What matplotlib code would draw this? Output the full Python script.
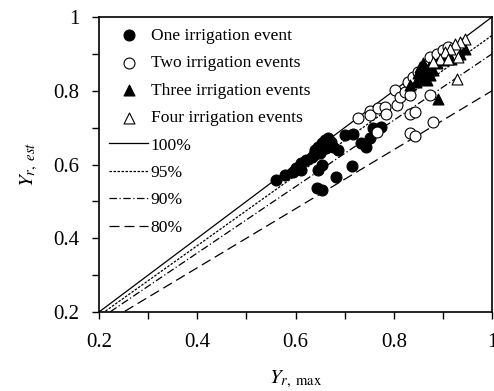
import numpy as np
import matplotlib
matplotlib.use("Agg")
import matplotlib.pyplot as plt

plt.rcParams['font.family'] = ['Liberation Serif', 'DejaVu Serif']
plt.rcParams['mathtext.fontset'] = 'stix'

# one irrigation event
one_x = [0.560, 0.578, 0.595, 0.602, 0.612, 0.612, 0.622, 0.633, 0.639, 0.646, 0.653,
         0.660, 0.666, 0.673, 0.650, 0.660, 0.677, 0.687, 0.646, 0.653, 0.643, 0.653,
         0.683, 0.714, 0.700, 0.717, 0.734, 0.744, 0.751, 0.758, 0.775, 0.663, 0.640]
one_y = [0.558, 0.572, 0.581, 0.590, 0.603, 0.585, 0.612, 0.621, 0.639, 0.648, 0.657,
         0.666, 0.671, 0.662, 0.630, 0.644, 0.648, 0.639, 0.585, 0.599, 0.536, 0.531,
         0.567, 0.596, 0.680, 0.684, 0.657, 0.648, 0.671, 0.698, 0.702, 0.644, 0.634]

# two irrigation events
two_x = [0.727, 0.751, 0.751, 0.768, 0.782, 0.785, 0.765, 0.802, 0.806, 0.812, 0.822,
         0.833, 0.829, 0.840, 0.850, 0.860, 0.833, 0.843, 0.833, 0.843, 0.873, 0.880,
         0.873, 0.887, 0.900, 0.911]
two_y = [0.725, 0.745, 0.734, 0.752, 0.756, 0.738, 0.689, 0.802, 0.761, 0.784, 0.797,
         0.788, 0.824, 0.838, 0.851, 0.860, 0.738, 0.743, 0.686, 0.677, 0.788, 0.716,
         0.892, 0.901, 0.910, 0.919]

# three irrigation events
three_x = [0.833, 0.850, 0.853, 0.857, 0.860, 0.864, 0.867, 0.871, 0.874, 0.880, 0.887,
           0.890, 0.900, 0.917, 0.934, 0.944, 0.846]
three_y = [0.815, 0.847, 0.865, 0.833, 0.874, 0.851, 0.829, 0.865, 0.842, 0.856, 0.874,
           0.779, 0.883, 0.887, 0.901, 0.914, 0.824]

# four irrigation events
four_x = [0.944, 0.934, 0.924, 0.914, 0.904, 0.894, 0.880, 0.928, 0.911, 0.931]
four_y = [0.941, 0.932, 0.928, 0.914, 0.905, 0.887, 0.878, 0.831, 0.887, 0.892]

ratios = [1.0, 0.95, 0.90, 0.80]
ratio_labels = ['100%', '95%', '90%', '80%']
ratio_styles = ['-', (0, (2, 1.2)), (0, (6, 2, 1, 2)), (0, (8, 4))]

fig = plt.figure(figsize=(4.94, 3.91), dpi=100)
ax = fig.add_axes([0.2004, 0.202, 0.7956, 0.7545])

ms = 62
ax.scatter(one_x, one_y, s=ms, marker='o', c='black', edgecolors='black',
           linewidths=0.8, label='One irrigation event', zorder=3)
ax.scatter(two_x, two_y, s=ms, marker='o', c='white', edgecolors='black',
           linewidths=0.8, label='Two irrigation events', zorder=3)
ax.scatter(three_x, three_y, s=ms, marker='^', c='black', edgecolors='black',
           linewidths=0.8, label='Three irrigation events', zorder=3)
ax.scatter(four_x, four_y, s=ms, marker='^', c='white', edgecolors='black',
           linewidths=0.8, label='Four irrigation events', zorder=3)

xx = np.array([0.2, 1.0])
for r, lab, ls in zip(ratios, ratio_labels, ratio_styles):
    ax.plot(xx, r * xx, color='black', linestyle=ls, linewidth=0.9, label=lab, zorder=2)

ax.set_xlim(0.2, 1.0)
ax.set_ylim(0.2, 1.0)
ax.set_xticks([0.2, 0.4, 0.6, 0.8, 1.0])
ax.set_xticklabels(['0.2', '0.4', '0.6', '0.8', '1'])
ax.set_yticks([0.2, 0.4, 0.6, 0.8, 1.0])
ax.set_yticklabels(['0.2', '0.4', '0.6', '0.8', '1'])
ax.set_xticks([0.3, 0.5, 0.7, 0.9], minor=True)
ax.set_yticks([0.3, 0.5, 0.7, 0.9], minor=True)
ax.tick_params(which='both', direction='out', length=5, width=1, labelsize=15)
ax.tick_params(axis='x', pad=10)
ax.tick_params(axis='y', pad=9)
for sp in ax.spines.values():
    sp.set_linewidth(1.2)

ax.set_xlabel(r'$Y_{r,\ \mathrm{max}}$', fontsize=15, labelpad=12)
ax.set_ylabel(r'$Y_{r,\ est}$', fontsize=15, labelpad=10)

ax.legend(loc='upper left', frameon=False, fontsize=12.6, handlelength=2.2,
          handletextpad=0.15, labelspacing=0.64, borderaxespad=0.2,
          scatterpoints=1)

fig.savefig('out.png', dpi=100)
